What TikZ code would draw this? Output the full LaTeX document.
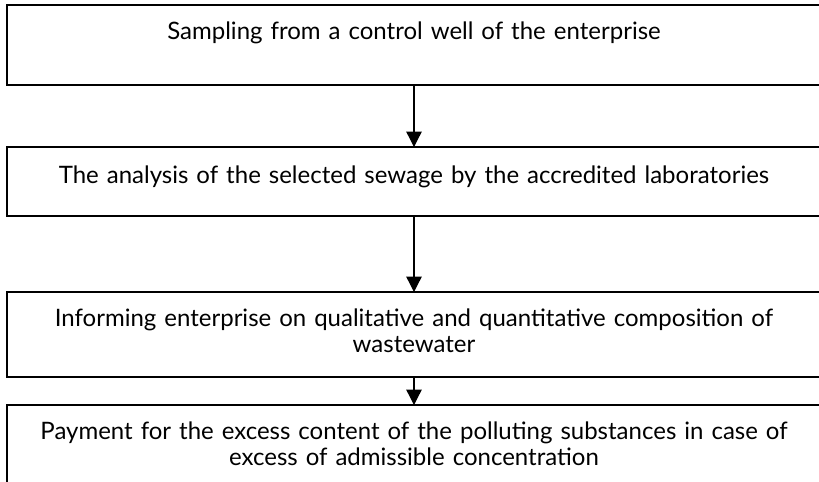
\documentclass[tikz,border=0pt]{standalone}
\usepackage{fontspec}
\setmainfont{Lato}
\usepackage{tikz}
\usetikzlibrary{arrows.meta}
\newcommand*\boxwidth{610.5pt}
\newcommand*\boxline {1.5pt}
\tikzset{
    stepbox/.style = {draw, line width=\boxline, anchor=north,
                      minimum width=\boxwidth, inner sep=0pt, outer sep=0pt,
                      text width=\boxwidth, align=center,
                      font=\fontsize{18pt}{20pt}\selectfont},
    flow/.style    = {line width=1pt, -{Triangle[width=11.5pt,length=11.5pt]}},
  }
\begin{document}
\begin{tikzpicture}[x=0.75pt, y=-0.75pt]
    \useasboundingbox (0,0) rectangle (819,482);

    % the four steps, top edges at fixed rows
    \node (sampling) [stepbox, text height=25.5pt, text depth=34.5pt] at (414,5)
        {Sampling from a control well of the enterprise};
    \node (analysis) [stepbox, text height=27pt, text depth=24.75pt] at (414,147)
        {The analysis of the selected sewage by the accredited laboratories};
    \node (informing) [stepbox, text height=25.5pt, text depth=38.25pt] at (414,292)
        {Informing enterprise on qualitative and quantitative composition of\\ wastewater};
    \node (payment) [stepbox, text height=25.5pt, text depth=38.25pt] at (414,405)
        {Payment for the excess content of the polluting substances in case of\\ excess of admissible concentration};

    % arrows between the steps
    \foreach \a/\b in {sampling/analysis, analysis/informing, informing/payment} {
        \draw[flow] (\a.south) -- (\b.north);
    }
\end{tikzpicture}
\end{document}
